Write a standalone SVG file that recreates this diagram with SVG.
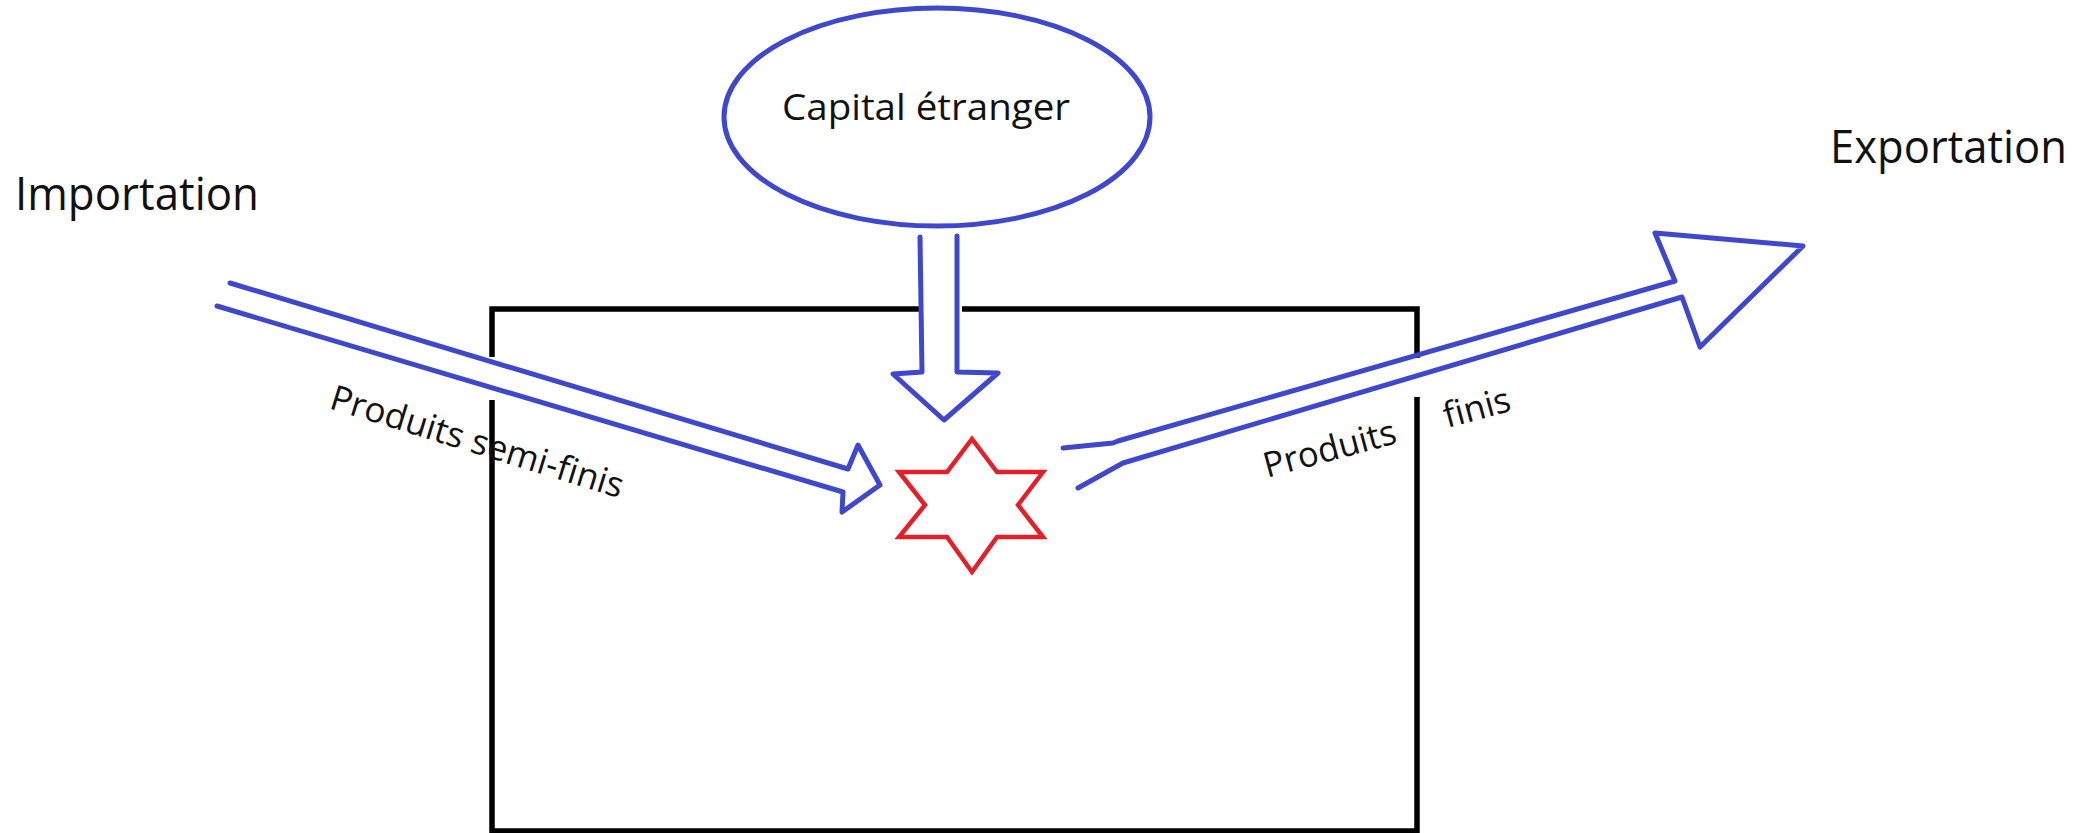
<svg xmlns="http://www.w3.org/2000/svg" width="2078" height="833" viewBox="0 0 2078 833">
<style>
  .lbl { font-family: "Open Sans", "Noto Sans", "Liberation Sans", sans-serif; fill: #111; }
  .blue { fill: none; stroke: #3f48cc; stroke-width: 5; stroke-linejoin: round; stroke-linecap: round; }
  .frame { fill: none; stroke: #000; stroke-width: 5.5; stroke-linecap: butt; }
</style>
<rect x="0" y="0" width="2078" height="833" fill="#fff"/>

<g id="usine">
  <path class="frame" d="M492,833 V400 M492,357 V309 H920 M962,309 H1417 V358 M1417,397 V831 H492"/>
</g>

<g id="capital">
  <ellipse class="blue" cx="937" cy="117" rx="213" ry="109" fill="#fff"/>
  <text class="lbl" x="782" y="120" font-size="37" textLength="288" lengthAdjust="spacingAndGlyphs">Capital étranger</text>
</g>

<g id="production">
  <polygon points="972,439 997,472 1043,472 1018,505 1043,537 997,537 972,572 947,537 899,537 925,505 899,472 947,472" fill="none" stroke="#e3202a" stroke-width="4.5" stroke-linejoin="miter"/>
</g>

<g id="importation">
  <text class="lbl" x="15" y="210" font-size="46" textLength="244" lengthAdjust="spacingAndGlyphs">Importation</text>
</g>

<g id="exportation">
  <text class="lbl" x="1830" y="163" font-size="46" textLength="237" lengthAdjust="spacingAndGlyphs">Exportation</text>
</g>

<g id="connectors">
  <polyline class="blue" points="230,283 848,469 858,445 880,485 842,512 843,492 217,306"/>
  <polyline class="blue" points="920,237 922,372 893,374 944,420 998,373 957,372 957,236"/>
  <polyline class="blue" points="1063,448 1113,443 1118,441 1675,281 1655,233 1803,246 1700,347 1682,297 1123,463 1078,488"/>
  <text class="lbl" font-size="35" textLength="305" lengthAdjust="spacingAndGlyphs" transform="translate(328,408) rotate(17.2)">Produits semi-finis</text>
  <text class="lbl" font-size="35" textLength="136" lengthAdjust="spacingAndGlyphs" transform="translate(1267,478) rotate(-15)">Produits</text>
  <text class="lbl" font-size="35" textLength="68" lengthAdjust="spacingAndGlyphs" transform="translate(1447,428) rotate(-15)">finis</text>
</g>
</svg>
